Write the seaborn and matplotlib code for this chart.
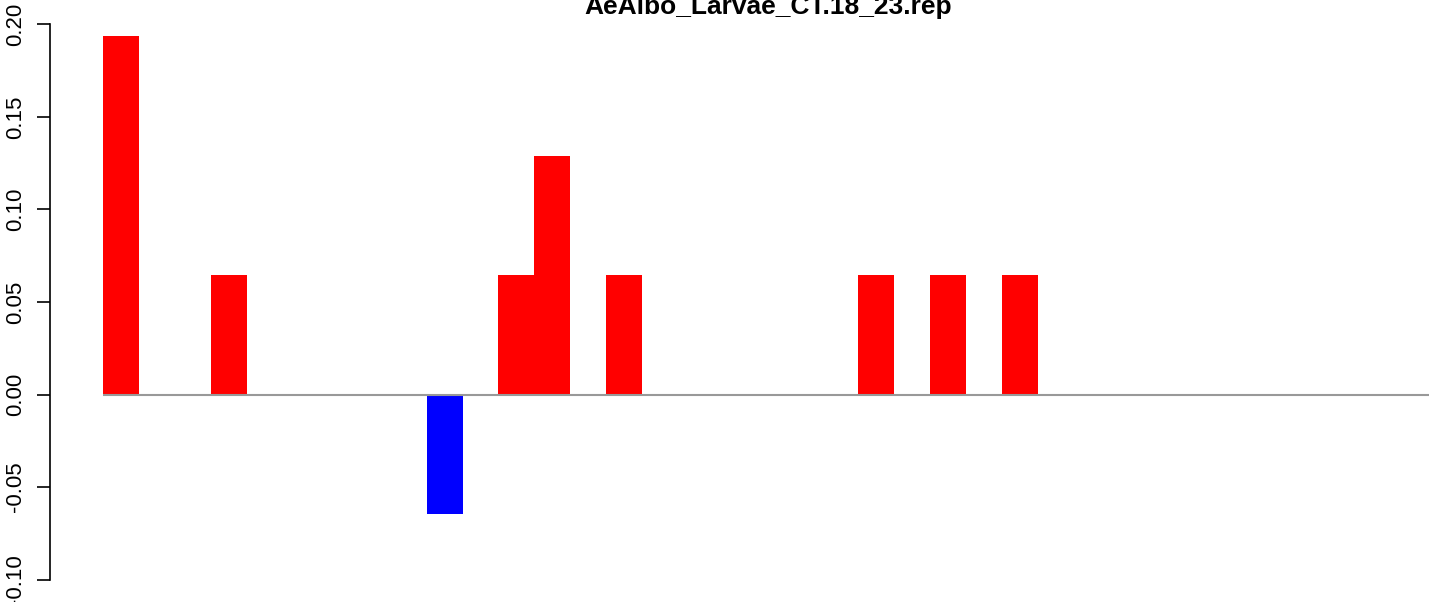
import seaborn as sns
import matplotlib.pyplot as plt
import pandas as pd

# bar values (37 positions, most are zero)
n_bars = 37
pos_bars = [0, 3, 11, 12, 14, 21, 23, 25]
pos_vals = [0.1935, 0.0645, 0.0645, 0.129, 0.0645, 0.0645, 0.0645, 0.0645]
neg_bars = [9]
neg_vals = [-0.0645]
title = "AeAlbo_Larvae_CT.18_23.rep"
yticks = [-0.10, -0.05, 0.00, 0.05, 0.10, 0.15, 0.20]

vals = [0.0] * n_bars
for i, v in zip(pos_bars, pos_vals):
    vals[i] = v
for i, v in zip(neg_bars, neg_vals):
    vals[i] = v

df = pd.DataFrame({"pos": range(n_bars), "val": vals})
df["sign"] = ["neg" if v < 0 else "pos" for v in df["val"]]

sns.set_style("white")
plt.rcParams["font.family"] = ["Liberation Sans", "DejaVu Sans"]

fig = plt.figure(figsize=(14.29, 6.02), dpi=100)
ax = fig.add_axes([50 / 1429, 0.0, 1436 / 1429, 600 / 602])

sns.barplot(data=df, x="pos", y="val", hue="sign",
            palette={"pos": "#ff0000", "neg": "#0000ff"},
            width=1.0, dodge=False, legend=False, saturation=1,
            linewidth=0, ax=ax)

ax.hlines(0, -0.5, n_bars - 0.5, color="#999999", lw=1.5, zorder=3)

ax.set_xlim(-1.98, n_bars - 0.5 + 1.48)
ax.set_ylim(-0.112, 0.212)
ax.set_xticks([])
ax.set_xlabel("")
ax.set_ylabel("")
ax.set_yticks(yticks)
ax.set_yticklabels(["%.2f" % t for t in yticks], rotation=90, va="center",
                   fontsize=16)
ax.tick_params(axis="y", length=9.4, width=1.2, pad=8, left=True,
               color="black", labelcolor="black")
for s in ["top", "right", "bottom"]:
    ax.spines[s].set_visible(False)
ax.spines["left"].set_bounds(-0.10, 0.20)
ax.spines["left"].set_linewidth(1.2)
ax.spines["left"].set_color("black")

fig.text(768 / 1429, 1 - 14 / 602, title, ha="center", va="baseline",
         fontsize=19, fontweight="bold", color="black")

fig.savefig("out.png", dpi=100)
